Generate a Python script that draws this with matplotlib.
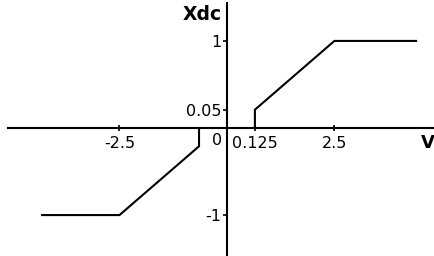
import numpy as np
import matplotlib
matplotlib.use('Agg')
import matplotlib.pyplot as plt

plt.rcParams['font.family'] = ['DejaVu Sans']

# piecewise transfer curve
right_v = [0.125, 0.125, 2.5, 4.4]
right_x = [0.0, 0.05, 1.0, 1.0]
left_v = [-4.3, -2.5, -0.125, -0.125]
left_x = [-1.0, -1.0, -0.05, 0.0]

xticks = [-2.5, 0.125, 2.5]
xtick_labels = ['-2.5', '0.125', '2.5']
yticks = [-1, 0.05, 1]
ytick_labels = ['-1', '0.05', '1']


# the drawing is not to scale near zero, so stretch the small values
def fwd_x(x):
    x = np.asarray(x, dtype=float)
    a = np.abs(x)
    u = np.where(a <= 0.125, a * 0.65 / 0.125,
                 np.where(a <= 2.5, 0.65 + (a - 0.125) * 1.85 / 2.375, a))
    return np.sign(x) * u


def inv_x(u):
    u = np.asarray(u, dtype=float)
    a = np.abs(u)
    x = np.where(a <= 0.65, a * 0.125 / 0.65,
                 np.where(a <= 2.5, 0.125 + (a - 0.65) * 2.375 / 1.85, a))
    return np.sign(u) * x


def fwd_y(y):
    y = np.asarray(y, dtype=float)
    a = np.abs(y)
    v = np.where(a <= 0.05, a * 0.21 / 0.05,
                 np.where(a <= 1, 0.21 + (a - 0.05) * 0.79 / 0.95, a))
    return np.sign(y) * v


def inv_y(v):
    v = np.asarray(v, dtype=float)
    a = np.abs(v)
    y = np.where(a <= 0.21, a * 0.05 / 0.21,
                 np.where(a <= 1, 0.05 + (a - 0.21) * 0.95 / 0.79, a))
    return np.sign(v) * y


fig = plt.figure(figsize=(4.35, 2.56), dpi=100)
ax = fig.add_axes([0, 0, 1, 1])
ax.set_xscale('function', functions=(fwd_x, inv_x))
ax.set_yscale('function', functions=(fwd_y, inv_y))

ax.plot(right_v, right_x, color='black', lw=1.5, solid_joinstyle='miter')
ax.plot(left_v, left_x, color='black', lw=1.5, solid_joinstyle='miter')

ax.set_xlim(-5.28, 4.84)
ax.set_ylim(-1.47, 1.47)

for s in ['top', 'right']:
    ax.spines[s].set_visible(False)
ax.spines['left'].set_position(('data', 0))
ax.spines['bottom'].set_position(('data', 0))
ax.spines['left'].set_linewidth(1.5)
ax.spines['bottom'].set_linewidth(1.5)
ax.spines['bottom'].set_bounds(-5.09, 4.84)
ax.spines['left'].set_bounds(-1.47, 1.44)

ax.set_xticks(xticks)
ax.set_xticklabels(xtick_labels)
ax.set_yticks(yticks)
ax.set_yticklabels(ytick_labels)
ax.xaxis.set_minor_locator(matplotlib.ticker.NullLocator())
ax.yaxis.set_minor_locator(matplotlib.ticker.NullLocator())
ax.tick_params(axis='x', direction='inout', length=4, width=1.2, pad=4, labelsize=11.5)
ax.tick_params(axis='y', direction='out', length=3, width=1.2, pad=1, labelsize=11.5)

ax.annotate('0', xy=(0, 0), xytext=(-3.5, -3.5), textcoords='offset points',
            ha='right', va='top', fontsize=11.5)
fig.text(222 / 435, 1 - 14 / 256, 'Xdc', ha='right', va='center',
         fontsize=13.5, fontweight='bold')
fig.text(0.999, 1 - 143 / 256, 'V', ha='right', va='center',
         fontsize=13, fontweight='bold')

fig.savefig('out.png', dpi=100)
